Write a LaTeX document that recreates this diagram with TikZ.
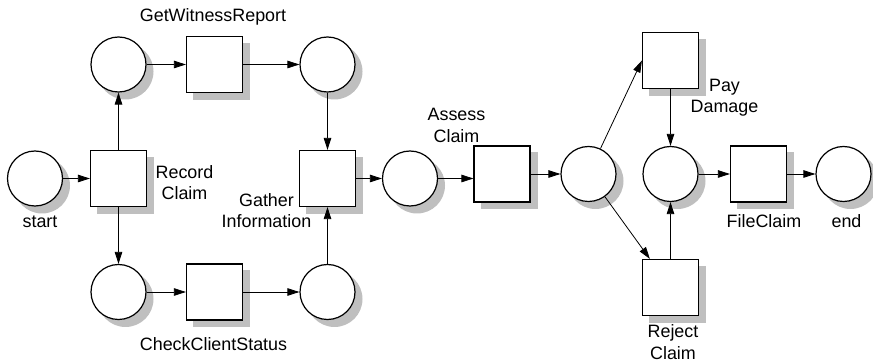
\documentclass[tikz,border=0pt]{standalone}
\usepackage{fontspec}
\setmainfont{Liberation Sans}
\usetikzlibrary{arrows.meta,positioning}
\tikzset{
  place/.style={circle,draw=black,fill=white,line width=1.2pt,minimum size=55pt,inner sep=0pt},
  trans/.style={rectangle,draw=black,fill=white,line width=1.2pt,minimum size=56pt,inner sep=0pt},
  placeshadow/.style={circle,draw=none,fill=gray!50,minimum size=56pt,inner sep=0pt,xshift=7pt,yshift=-7pt},
  transshadow/.style={rectangle,draw=none,fill=gray!50,minimum size=57pt,inner sep=0pt,xshift=7pt,yshift=-7pt},
  arc/.style={-{Triangle[length=12pt,width=7.5pt]},draw=black,line width=.8pt},
  lbl/.style={font=\fontsize{17.9}{21.7}\selectfont,align=center,inner sep=0pt,anchor=base,text=black}
}
\begin{document}
\begin{tikzpicture}[x=1pt,y=-1pt]
  \useasboundingbox (0,0) rectangle (873,363);
  % places, each with its shadow
  \foreach \nm/\px/\py in {start/35/178.5,pa/118.5/64.5,pb/327.5/64.5,pc/118.5/292,pd/327.5/292,
      pe/410/178.5,pf/588.5/174,pg/670.5/174,fin/843.5/174} {
    \node[placeshadow] (s\nm) at (\px,\py) {};
    \node[place] (\nm) at (\px,\py) {};
  }
  % transitions, each with its shadow
  \foreach \nm/\px/\py in {rec/118.5/178.5,wit/214.5/64.5,chk/214.5/292,gat/327.5/178.5,
      ass/502/174,pay/670.5/60.5,rej/670.5/287.5,fil/758.5/174} {
    \node[transshadow] (s\nm) at (\px,\py) {};
    \node[trans] (\nm) at (\px,\py) {};
  }
  % arcs
  \draw[arc] (start) -- (rec);
  \draw[arc] (rec) -- (pa);
  \draw[arc] (rec) -- (pc);
  \draw[arc] (pa) -- (wit);
  \draw[arc] (wit) -- (pb);
  \draw[arc] (pc) -- (chk);
  \draw[arc] (chk) -- (pd);
  \draw[arc] (pb) -- (gat);
  \draw[arc] (pd) -- (gat);
  \draw[arc] (gat) -- (pe);
  \draw[arc] (pe) -- (pe -| ass.west);
  \draw[arc] (ass) -- (pf);
  \draw[arc] (pf) -- (pay.west);
  \draw[arc] (pf) -- (rej);
  \draw[arc] (pay) -- (pg);
  \draw[arc] (rej) -- (pg);
  \draw[arc] (pg) -- (fil);
  \draw[arc] (fil) -- (fin);
  % labels
  \node[lbl] (lstart) at (40,228) {start};
  \node[lbl] (lrec) at (184.5,200) {Record\\Claim};
  \node[lbl] (lwit) at (213,21.5) {GetWitnessReport};
  \node[lbl] (lchk) at (213.5,350.5) {CheckClientStatus};
  \node[lbl] (lgat) at (266.5,228) {Gather\\Information};
  \node[lbl] (lass) at (456.5,142.7) {Assess\\Claim};
  \node[lbl] (lpay) at (724.5,112.8) {Pay\\Damage};
  \node[lbl] (lrej) at (673,359.5) {Reject\\Claim};
  \node[lbl] (lfil) at (764,228) {FileClaim};
  \node[lbl] (lfin) at (846.5,228) {end};
\end{tikzpicture}
\end{document}
